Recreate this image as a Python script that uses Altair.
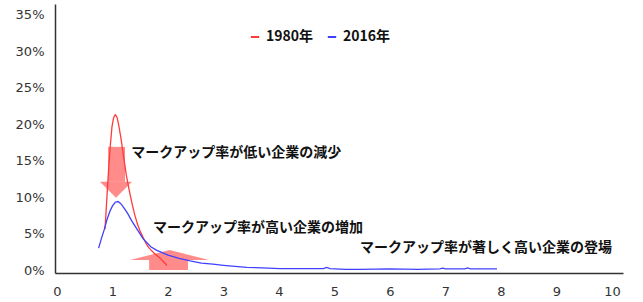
import altair as alt
import pandas as pd

# ---- data ----
red_x = [0.865, 0.90, 0.93, 0.96, 0.99, 1.02, 1.05, 1.08, 1.11, 1.15, 1.20, 1.25, 1.30, 1.35,
         1.40, 1.45, 1.50, 1.55, 1.60, 1.65, 1.70, 1.75, 1.80, 1.85, 1.90, 1.95, 1.98]
red_y = [5.6, 10.0, 13.8, 17.0, 19.6, 20.9, 21.3, 21.0, 20.0, 18.2, 15.6, 13.0, 11.0, 9.2,
         7.6, 6.3, 5.3, 4.5, 3.7, 3.1, 2.7, 2.3, 2.0, 1.7, 1.3, 0.9, 0.6]

blue_x = [0.75, 0.80, 0.85, 0.90, 0.95, 1.00, 1.05, 1.10, 1.15, 1.20, 1.27, 1.35, 1.45, 1.55,
          1.69, 1.80, 2.00, 2.20, 2.40, 2.60, 2.81, 3.00, 3.42, 3.70, 4.02, 4.40, 4.80, 4.86,
          4.92, 5.20, 5.46, 6.00, 6.50, 6.90, 6.95, 7.00, 7.35, 7.40, 7.45, 7.93]
blue_y = [3.0, 4.3, 5.5, 6.9, 8.0, 8.8, 9.3, 9.4, 9.1, 8.6, 7.8, 6.7, 5.5, 4.3,
          3.2, 2.7, 2.05, 1.6, 1.25, 0.95, 0.8, 0.65, 0.37, 0.28, 0.2, 0.2, 0.2, 0.35,
          0.2, 0.1, 0.1, 0.15, 0.1, 0.15, 0.25, 0.15, 0.15, 0.3, 0.15, 0.15]

series_names = ["1980年", "2016年"]
series_colors = ["#FF3B3B", "#4040FF"]

y_ticks = [0, 0.05, 0.10, 0.15, 0.20, 0.25, 0.30, 0.35]
x_ticks = [0, 1, 2, 3, 4, 5, 6, 7, 8, 9, 10]

# annotation texts (data units: x, y in %)
note_text = ["マークアップ率が低い企業の減少", "マークアップ率が高い企業の増加",
             "マークアップ率が著しく高い企業の登場"]
note_x = [1.34, 1.73, 5.46]
note_y = [16.1, 5.7, 3.0]

# arrows (data units)
shaft_x0 = [0.92, 1.66]
shaft_x1 = [1.225, 2.36]
shaft_y0 = [16.9, 0.0]
shaft_y1 = [12.1, 1.37]
head_id = ["down", "down", "down", "up", "up", "up"]
head_x = [0.775, 1.063, 1.351, 1.315, 2.03, 2.74]
head_base = [12.1, 12.1, 12.1, 1.37, 1.37, 1.37]
head_edge = [12.1, 9.9, 12.1, 1.37, 2.74, 1.37]

# ---- tables ----
lines = pd.DataFrame(
    {"x": red_x + blue_x,
     "y": [v / 100 for v in red_y + blue_y],
     "series": [series_names[0]] * len(red_x) + [series_names[1]] * len(blue_x),
     "order": list(range(len(red_x))) + list(range(len(blue_x)))}
)
notes = pd.DataFrame({"x": note_x, "y": [v / 100 for v in note_y], "t": note_text})
shafts = pd.DataFrame({"x": shaft_x0, "x2": shaft_x1,
                       "y": [v / 100 for v in shaft_y0], "y2": [v / 100 for v in shaft_y1]})
heads = pd.DataFrame({"id": head_id, "x": head_x,
                      "y": [v / 100 for v in head_base], "y2": [v / 100 for v in head_edge]})

xs = alt.Scale(domain=[-0.036, 10.2], zero=False, nice=False)
ys = alt.Scale(domain=[-0.0041, 0.365], zero=False, nice=False)

x_axis = alt.Axis(values=x_ticks, format="d", title=None, grid=False, ticks=False,
                  labelOverlap=False, labelFlush=False,
                  labelPadding=12, labelFontSize=13, labelFont="DejaVu Sans",
                  labelColor="#333333", domainColor="#333333", domainWidth=1.5)
y_axis = alt.Axis(values=y_ticks, format=".0%", title=None, grid=False, ticks=False,
                  labelOverlap=False, labelFlush=False,
                  labelPadding=11, labelFontSize=13, labelFont="DejaVu Sans",
                  labelColor="#333333", domainColor="#333333", domainWidth=1.5)

arrow_color = "#FF6E6E"

shaft_layer = alt.Chart(shafts).mark_rect(color=arrow_color, opacity=0.8).encode(
    x=alt.X("x:Q", scale=xs, axis=x_axis), x2="x2:Q",
    y=alt.Y("y:Q", scale=ys, axis=y_axis), y2="y2:Q")

head_layer = alt.Chart(heads).mark_area(color=arrow_color, opacity=0.8).encode(
    x=alt.X("x:Q", scale=xs, axis=x_axis), y=alt.Y("y:Q", scale=ys, axis=y_axis),
    y2="y2:Q", detail="id:N")

line_layer = alt.Chart(lines).mark_line(strokeWidth=1.3).encode(
    x=alt.X("x:Q", scale=xs, axis=x_axis),
    y=alt.Y("y:Q", scale=ys, axis=y_axis),
    order="order:Q",
    color=alt.Color("series:N",
                    scale=alt.Scale(domain=series_names, range=series_colors),
                    legend=alt.Legend(title=None, orient="none", legendX=193, legendY=26,
                                      direction="horizontal", symbolType="stroke",
                                      symbolSize=70, symbolStrokeWidth=2,
                                      labelFont="Noto Sans CJK JP", labelFontWeight="bold",
                                      labelFontSize=14, labelColor="#111111",
                                      labelOffset=4, columnPadding=9, padding=0)),
)

text_layer = alt.Chart(notes).mark_text(
    align="left", baseline="middle", font="Noto Sans CJK JP", fontWeight="bold",
    fontSize=14, color="#111111").encode(
    x=alt.X("x:Q", scale=xs, axis=x_axis), y=alt.Y("y:Q", scale=ys, axis=y_axis), text="t:N")

chart = alt.layer(shaft_layer, head_layer, line_layer, text_layer).properties(
    width=568, height=269,
    autosize=alt.AutoSizeParams(type="none"),
    padding={"left": 55, "top": 4, "right": 20, "bottom": 29},
    background="white",
).configure_view(stroke=None)

chart.save("out.html", embed_options={"renderer": "svg", "actions": False})
